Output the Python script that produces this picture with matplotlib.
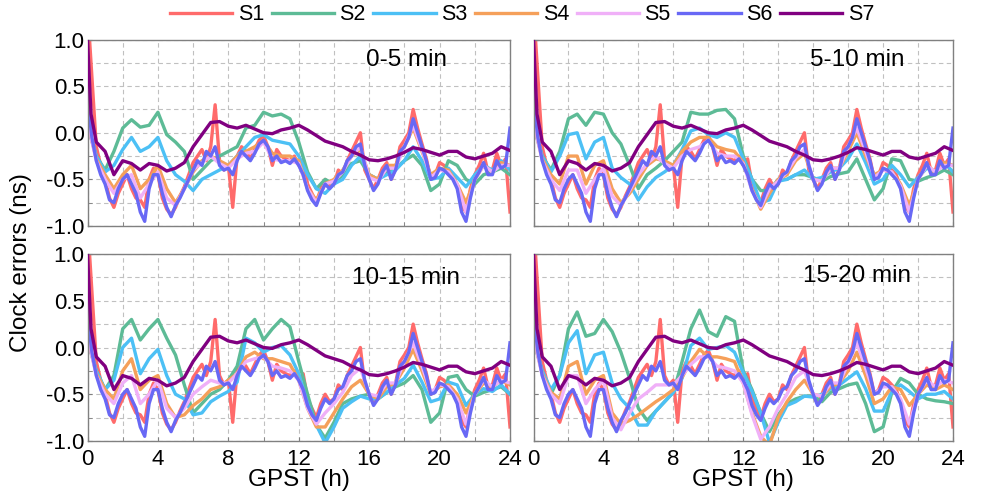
import numpy as np
import matplotlib
matplotlib.use("Agg")
import matplotlib.pyplot as plt
from matplotlib.ticker import MultipleLocator, FormatStrFormatter

plt.rcParams['font.family'] = ['Liberation Sans', 'DejaVu Sans']

# ---------------- data ----------------
# sample times (hours)
T_FINE = [0.0, 0.1] + [round(0.25 * k, 2) for k in range(1, 97)]
T_COARSE = [0.0, 0.2] + [round(0.5 * k, 2) for k in range(1, 49)]

SERIES = ["S1", "S2", "S3", "S4", "S5", "S6", "S7"]
PANEL_LABELS = ["0-5 min", "5-10 min", "10-15 min", "15-20 min"]
COLORS = ["#FF6B6B", "#5DBB96", "#4CC0F5", "#F5A05A", "#F0B0F8", "#6868F5", "#800080"]

# S1, S6 (fine grid) and S7 (coarse grid) are common to all panels
S1 = [1.2, 1.05,
      0.6, -0.15, -0.35, -0.5, -0.7, -0.8, -0.65, -0.55,
      -0.45, -0.6, -0.7, -0.72, -0.8, -0.5, -0.38, -0.45,
      -0.7, -0.82, -0.88, -0.8, -0.68, -0.58, -0.45, -0.32,
      -0.25, -0.18, -0.3, -0.15, 0.3, -0.3, -0.4, -0.35,
      -0.8, -0.25, -0.15, -0.2, -0.28, -0.18, -0.08, -0.03,
      -0.15, -0.35, -0.18, -0.25, -0.28, -0.3, -0.25, -0.35,
      -0.28, -0.55, -0.65, -0.75, -0.6, -0.5, -0.58, -0.55,
      -0.4, -0.45, -0.3, -0.2, -0.1, 0.0, -0.4, -0.5,
      -0.6, -0.5, -0.38, -0.32, -0.5, -0.38, -0.15, -0.08,
      0.0, 0.25, 0.05, -0.12, -0.28, -0.5, -0.45, -0.32,
      -0.35, -0.4, -0.45, -0.58, -0.78, -0.85, -0.6, -0.45,
      -0.35, -0.22, -0.42, -0.4, -0.22, -0.35, -0.28, -0.85]

S6 = [0.45, 0.2,
      -0.05, -0.3, -0.45, -0.55, -0.72, -0.75, -0.6, -0.5,
      -0.45, -0.55, -0.65, -0.85, -0.95, -0.6, -0.45, -0.45,
      -0.65, -0.8, -0.9, -0.78, -0.7, -0.6, -0.5, -0.4,
      -0.3, -0.35, -0.2, -0.25, -0.15, -0.35, -0.4, -0.38,
      -0.45, -0.3, -0.2, -0.25, -0.3, -0.22, -0.12, -0.08,
      -0.15, -0.3, -0.25, -0.32, -0.3, -0.33, -0.28, -0.35,
      -0.45, -0.62, -0.72, -0.78, -0.65, -0.55, -0.6, -0.55,
      -0.45, -0.42, -0.3, -0.25, -0.15, -0.12, -0.35, -0.5,
      -0.62, -0.55, -0.42, -0.35, -0.5, -0.4, -0.2, -0.15,
      -0.05, 0.15, 0.0, -0.15, -0.3, -0.5, -0.48, -0.38,
      -0.4, -0.45, -0.5, -0.6, -0.85, -0.95, -0.7, -0.5,
      -0.42, -0.32, -0.45, -0.45, -0.3, -0.38, -0.35, 0.05]

S7 = [1.0, 0.2,
      -0.1, -0.2, -0.45, -0.3, -0.33, -0.4, -0.33, -0.35,
      -0.41, -0.38, -0.32, -0.15, -0.02, 0.11, 0.12, 0.07,
      0.05, 0.08, 0.04, 0.0, -0.01, 0.03, 0.05, 0.08,
      0.03, -0.03, -0.09, -0.12, -0.15, -0.2, -0.24, -0.29,
      -0.3, -0.28, -0.25, -0.21, -0.16, -0.18, -0.21, -0.24,
      -0.2, -0.2, -0.26, -0.28, -0.25, -0.22, -0.15, -0.19]

# panel-specific series (coarse grid)
S2_A = [0.45, -0.05, -0.25, -0.4, -0.2, 0.05, 0.14, 0.06, 0.08, 0.22,
        -0.02, -0.1, -0.2, -0.5, -0.4, -0.3, -0.25, -0.2, -0.15, 0.05,
        0.08, 0.22, 0.18, 0.2, 0.15, -0.1, -0.42, -0.6, -0.5, -0.55,
        -0.45, -0.33, -0.3, -0.45, -0.5, -0.42, -0.38, -0.3, -0.24, -0.35,
        -0.62, -0.55, -0.3, -0.35, -0.5, -0.55, -0.45, -0.42, -0.38, -0.45]
S3_A = [0.45, -0.05, -0.25, -0.42, -0.35, -0.18, -0.05, -0.2, -0.15, -0.05,
        -0.3, -0.45, -0.52, -0.62, -0.5, -0.45, -0.4, -0.35, -0.25, -0.15,
        -0.05, -0.02, -0.08, -0.1, -0.12, -0.25, -0.45, -0.6, -0.65, -0.55,
        -0.5, -0.35, -0.25, -0.45, -0.5, -0.45, -0.4, -0.3, -0.15, -0.3,
        -0.5, -0.48, -0.38, -0.48, -0.58, -0.45, -0.35, -0.4, -0.3, -0.4]
S4_A = [0.45, -0.05, -0.28, -0.45, -0.6, -0.45, -0.35, -0.6, -0.5, -0.35,
        -0.6, -0.75, -0.6, -0.42, -0.3, -0.25, -0.3, -0.35, -0.25, -0.2,
        -0.15, -0.08, -0.22, -0.25, -0.25, -0.3, -0.6, -0.72, -0.55, -0.5,
        -0.4, -0.25, -0.18, -0.45, -0.5, -0.35, -0.35, -0.15, 0.05, -0.2,
        -0.45, -0.38, -0.4, -0.55, -0.75, -0.5, -0.35, -0.42, -0.32, -0.35]
S5_A = [0.45, -0.05, -0.3, -0.5, -0.65, -0.5, -0.45, -0.7, -0.55, -0.42,
        -0.7, -0.78, -0.6, -0.4, -0.32, -0.25, -0.33, -0.38, -0.28, -0.22,
        -0.2, -0.1, -0.28, -0.3, -0.3, -0.33, -0.6, -0.75, -0.55, -0.52,
        -0.42, -0.25, -0.15, -0.48, -0.52, -0.38, -0.38, -0.15, 0.08, -0.18,
        -0.48, -0.4, -0.42, -0.55, -0.85, -0.5, -0.35, -0.42, -0.35, -0.35]

S2_B = [0.45, -0.05, -0.25, -0.4, -0.2, 0.15, 0.2, 0.08, 0.22, 0.2,
        0.0, -0.12, -0.35, -0.6, -0.45, -0.38, -0.3, -0.2, -0.1, 0.22,
        0.2, 0.2, 0.24, 0.25, 0.15, -0.25, -0.5, -0.62, -0.62, -0.5,
        -0.5, -0.45, -0.45, -0.48, -0.52, -0.47, -0.44, -0.42, -0.28, -0.5,
        -0.72, -0.6, -0.28, -0.3, -0.5, -0.52, -0.48, -0.45, -0.4, -0.45]
S3_B = [0.45, -0.05, -0.25, -0.42, -0.25, -0.02, 0.0, -0.28, -0.1, -0.05,
        -0.38, -0.48, -0.55, -0.72, -0.58, -0.48, -0.42, -0.35, -0.18, 0.02,
        0.05, -0.02, -0.05, 0.0, -0.05, -0.28, -0.5, -0.75, -0.72, -0.52,
        -0.5, -0.45, -0.4, -0.5, -0.48, -0.42, -0.38, -0.28, -0.12, -0.32,
        -0.55, -0.5, -0.35, -0.45, -0.58, -0.48, -0.38, -0.42, -0.32, -0.42]
S4_B = [0.45, -0.05, -0.28, -0.45, -0.55, -0.25, -0.25, -0.55, -0.35, -0.3,
        -0.6, -0.75, -0.65, -0.5, -0.35, -0.28, -0.3, -0.35, -0.2, -0.1,
        -0.05, -0.05, -0.15, -0.18, -0.2, -0.32, -0.6, -0.82, -0.65, -0.5,
        -0.45, -0.3, -0.22, -0.5, -0.52, -0.38, -0.38, -0.2, 0.0, -0.25,
        -0.45, -0.4, -0.42, -0.55, -0.78, -0.5, -0.35, -0.42, -0.32, -0.35]
S5_B = [0.45, -0.05, -0.3, -0.5, -0.62, -0.4, -0.4, -0.65, -0.5, -0.38,
        -0.68, -0.78, -0.62, -0.45, -0.33, -0.25, -0.33, -0.38, -0.25, -0.18,
        -0.15, -0.08, -0.22, -0.25, -0.25, -0.33, -0.62, -0.8, -0.6, -0.52,
        -0.42, -0.27, -0.18, -0.5, -0.52, -0.38, -0.38, -0.15, 0.05, -0.2,
        -0.48, -0.4, -0.42, -0.57, -0.85, -0.5, -0.35, -0.42, -0.35, -0.35]

S2_C = [0.45, -0.05, -0.25, -0.45, -0.3, 0.2, 0.3, 0.08, 0.2, 0.3,
        0.1, -0.08, -0.4, -0.7, -0.6, -0.5, -0.45, -0.35, -0.2, 0.2,
        0.3, 0.08, 0.2, 0.3, 0.22, -0.15, -0.5, -0.83, -0.97, -0.8,
        -0.6, -0.55, -0.52, -0.5, -0.55, -0.48, -0.42, -0.38, -0.3, -0.45,
        -0.8, -0.7, -0.32, -0.3, -0.45, -0.52, -0.48, -0.45, -0.42, -0.5]
S3_C = [0.45, -0.05, -0.25, -0.45, -0.35, 0.0, 0.1, -0.28, -0.12, -0.02,
        -0.3, -0.5, -0.55, -0.72, -0.7, -0.58, -0.52, -0.47, -0.37, 0.1,
        0.05, -0.05, 0.0, 0.02, -0.08, -0.28, -0.6, -0.83, -1.02, -0.85,
        -0.65, -0.58, -0.52, -0.55, -0.55, -0.48, -0.4, -0.33, -0.19, -0.37,
        -0.58, -0.55, -0.37, -0.4, -0.62, -0.5, -0.44, -0.47, -0.4, -0.5]
S4_C = [0.45, -0.05, -0.28, -0.45, -0.55, -0.25, -0.12, -0.45, -0.35, -0.3,
        -0.6, -0.75, -0.72, -0.62, -0.55, -0.45, -0.42, -0.35, -0.28, -0.1,
        -0.05, -0.12, -0.12, -0.15, -0.18, -0.35, -0.65, -0.85, -0.85, -0.7,
        -0.55, -0.42, -0.35, -0.5, -0.55, -0.42, -0.38, -0.22, -0.02, -0.25,
        -0.5, -0.42, -0.4, -0.5, -0.7, -0.5, -0.38, -0.42, -0.35, -0.4]
S5_C = [0.45, -0.05, -0.3, -0.5, -0.6, -0.38, -0.3, -0.6, -0.5, -0.35,
        -0.65, -0.75, -0.65, -0.5, -0.42, -0.35, -0.38, -0.38, -0.28, -0.15,
        -0.12, -0.1, -0.2, -0.22, -0.25, -0.35, -0.65, -0.82, -0.7, -0.6,
        -0.48, -0.3, -0.22, -0.5, -0.52, -0.38, -0.38, -0.15, 0.05, -0.2,
        -0.48, -0.4, -0.42, -0.55, -0.82, -0.5, -0.35, -0.42, -0.35, -0.38]

S2_D = [0.45, -0.05, -0.25, -0.5, -0.3, 0.2, 0.38, 0.12, 0.15, 0.3,
        0.17, -0.05, -0.33, -0.65, -0.78, -0.68, -0.58, -0.48, -0.15, 0.2,
        0.4, 0.17, 0.12, 0.33, 0.28, -0.25, -0.45, -0.7, -0.9, -0.72,
        -0.6, -0.55, -0.52, -0.52, -0.58, -0.48, -0.44, -0.4, -0.38, -0.6,
        -0.9, -0.85, -0.48, -0.33, -0.38, -0.5, -0.55, -0.57, -0.58, -0.6]
S3_D = [0.45, -0.05, -0.25, -0.45, -0.3, 0.05, 0.18, -0.28, -0.08, -0.05,
        -0.38, -0.55, -0.65, -0.83, -0.83, -0.68, -0.58, -0.48, -0.33, 0.02,
        0.1, -0.02, 0.0, 0.02, -0.05, -0.27, -0.47, -0.7, -1.02, -0.8,
        -0.62, -0.58, -0.52, -0.53, -0.5, -0.44, -0.4, -0.33, -0.26, -0.44,
        -0.68, -0.68, -0.47, -0.4, -0.47, -0.55, -0.5, -0.5, -0.47, -0.55]
S4_D = [0.45, -0.05, -0.28, -0.48, -0.55, -0.2, -0.15, -0.5, -0.35, -0.3,
        -0.7, -0.82, -0.78, -0.72, -0.65, -0.58, -0.52, -0.45, -0.32, -0.15,
        -0.02, -0.1, -0.1, -0.12, -0.15, -0.38, -0.7, -0.95, -1.05, -0.75,
        -0.58, -0.45, -0.35, -0.5, -0.52, -0.42, -0.38, -0.25, -0.05, -0.3,
        -0.6, -0.55, -0.42, -0.45, -0.62, -0.5, -0.4, -0.45, -0.4, -0.45]
S5_D = [0.45, -0.05, -0.3, -0.5, -0.6, -0.3, -0.3, -0.6, -0.45, -0.35,
        -0.75, -0.88, -0.7, -0.55, -0.48, -0.4, -0.4, -0.4, -0.3, -0.18,
        -0.1, -0.1, -0.2, -0.22, -0.25, -0.38, -0.72, -0.98, -0.85, -0.65,
        -0.5, -0.32, -0.25, -0.5, -0.52, -0.38, -0.38, -0.17, 0.05, -0.22,
        -0.5, -0.42, -0.42, -0.55, -0.82, -0.5, -0.35, -0.42, -0.35, -0.38]

PANELS = [
    (S2_A, S3_A, S4_A, S5_A),
    (S2_B, S3_B, S4_B, S5_B),
    (S2_C, S3_C, S4_C, S5_C),
    (S2_D, S3_D, S4_D, S5_D),
]

# ---------------- figure ----------------
fig = plt.figure(figsize=(9.82, 4.95), dpi=100)
W, H = 982.0, 495.0
boxes = [
    (87.5, 39.5, 510.0, 226.0),
    (533.5, 39.5, 953.0, 226.0),
    (87.5, 254.0, 510.0, 441.0),
    (533.5, 254.0, 953.0, 441.0),
]
label_pos = [(18.1, 0.78), (18.5, 0.78), (18.1, 0.74), (18.5, 0.77)]
TICK_FS = 16
LAB_FS = 17.5
LEG_FS = 15.5
lw = 2.4
handles = []
for i, (x0, y0, x1, y1) in enumerate(boxes):
    ax = fig.add_axes([x0 / W, 1 - y1 / H, (x1 - x0) / W, (y1 - y0) / H])
    s2, s3, s4, s5 = PANELS[i]
    data = [(T_FINE, S1), (T_COARSE, s2), (T_COARSE, s3), (T_COARSE, s4),
            (T_COARSE, s5), (T_FINE, S6), (T_COARSE, S7)]
    order = [1, 2, 3, 4, 0, 5, 6]
    hs = {}
    for k in order:
        t, v = data[k]
        h, = ax.plot(t, v, color=COLORS[k], lw=lw, label=SERIES[k],
                     solid_joinstyle='round', zorder=2 + k * 0.1)
        hs[k] = h
    if i == 0:
        handles = [hs[k] for k in range(7)]
    ax.set_xlim(0, 24)
    ax.set_ylim(-1.0, 1.0)
    ax.xaxis.set_major_locator(MultipleLocator(4))
    ax.xaxis.set_minor_locator(MultipleLocator(2))
    ax.yaxis.set_major_locator(MultipleLocator(0.5))
    ax.yaxis.set_minor_locator(MultipleLocator(0.25))
    ax.yaxis.set_major_formatter(FormatStrFormatter('%.1f'))
    ax.grid(True, which='both', color='#C0C0C0', linestyle=(0, (4, 3)), lw=0.8, zorder=0)
    ax.set_axisbelow(True)
    ax.tick_params(which='both', direction='in', length=3, color='#808080',
                   labelsize=TICK_FS)
    ax.tick_params(axis='y', pad=2)
    ax.tick_params(axis='x', pad=6)
    for sp in ax.spines.values():
        sp.set_color('#808080')
        sp.set_linewidth(1.0)
    if i in (1, 3):
        ax.tick_params(labelleft=False)
    if i in (0, 1):
        ax.tick_params(labelbottom=False)
    else:
        ax.set_xlabel("GPST (h)", fontsize=LAB_FS, labelpad=-1)
    ax.text(label_pos[i][0], label_pos[i][1], PANEL_LABELS[i], fontsize=LAB_FS,
            ha='center', va='center', zorder=10)

fig.text(0.021, 0.47, "Clock errors (ns)", rotation=90, fontsize=LAB_FS,
         ha='center', va='center')
fig.legend(handles, SERIES, loc='center', bbox_to_anchor=(522 / W, 1 - 15 / H),
           ncol=7, frameon=False, fontsize=LEG_FS, handlelength=2.9,
           columnspacing=0.35, handletextpad=0.25, borderaxespad=0)

fig.savefig("out.png", dpi=100)
